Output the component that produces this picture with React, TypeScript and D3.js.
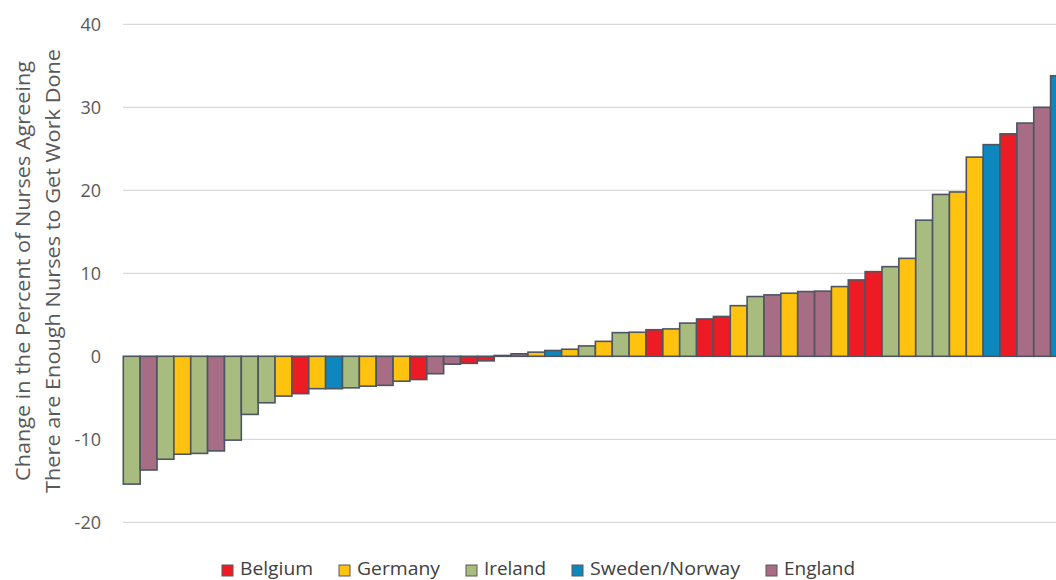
import React from "react";
import * as d3 from "d3";

const countries = ["Belgium", "Germany", "Ireland", "Sweden/Norway", "England"];
const countryColors = ["#ED1C24", "#FFC20E", "#A8BC80", "#0E87BF", "#A66D84"];

const barCountry = [
  "Ireland", "England", "Ireland", "Germany", "Ireland", "England", "Ireland", "Ireland",
  "Ireland", "Germany", "Belgium", "Germany", "Sweden/Norway", "Ireland", "Germany", "England",
  "Germany", "Belgium", "England", "England", "Belgium", "Belgium", "England", "England",
  "Germany", "Sweden/Norway", "Germany", "Ireland", "Germany", "Ireland", "Germany", "Belgium",
  "Germany", "Ireland", "Belgium", "Belgium", "Germany", "Ireland", "England", "Germany",
  "England", "England", "Germany", "Belgium", "Belgium", "Ireland", "Germany", "Ireland",
  "Ireland", "Germany", "Germany", "Sweden/Norway", "Belgium", "England", "England", "Sweden/Norway",
];
const barValues = [
  -15.4, -13.7, -12.4, -11.8, -11.7, -11.4, -10.1, -7.0,
  -5.6, -4.8, -4.5, -3.9, -3.9, -3.8, -3.6, -3.5,
  -3.0, -2.8, -2.1, -0.95, -0.85, -0.55, 0.1, 0.3,
  0.5, 0.7, 0.85, 1.25, 1.8, 2.85, 2.9, 3.2,
  3.3, 4.0, 4.5, 4.8, 6.1, 7.2, 7.4, 7.6,
  7.8, 7.85, 8.4, 9.2, 10.2, 10.8, 11.8, 16.4,
  19.5, 19.8, 24.0, 25.5, 26.8, 28.1, 30.0, 33.8,
];
const yTicks = [-20, -10, 0, 10, 20, 30, 40];
const yTitle = ["Change in the Percent of Nurses Agreeing", "There are Enough Nurses to Get  Work Done"];

export default function App() {
  const W = 1056, H = 580;
  const x0 = 123.3, pitch = 16.86;
  const x = d3.scaleBand<number>()
    .domain(barValues.map((_, i) => i))
    .range([x0, x0 + pitch * barValues.length])
    .padding(0);
  const y = d3.scaleLinear().domain([-20, 40]).range([522.3, 24.3]);
  const color = d3.scaleOrdinal<string, string>().domain(countries).range(countryColors);
  const font = "'Open Sans', sans-serif";

  const legendX = [222, 339, 466, 572, 766];
  const legendW = [73, 83, 62, 150, 71];

  return (
    <svg width={W} height={H} style={{ position: "absolute", left: 0, top: 0, background: "#fff" }}>
      {yTicks.map((t) => (
        <g key={t}>
          <line x1={123} x2={W} y1={y(t)} y2={y(t)} stroke="#d9d9d9" strokeWidth={1.3} />
          <text x={101} y={y(t)} dy="0.35em" textAnchor="end" fontFamily={font} fontSize={18} fill="#595959">
            {t}
          </text>
        </g>
      ))}
      {barValues.map((v, i) => {
        const top = y(Math.max(0, v));
        const bot = y(Math.min(0, v));
        return (
          <rect
            key={i}
            x={x(i)!}
            y={top}
            width={x.bandwidth()}
            height={Math.max(0.1, bot - top)}
            fill={color(barCountry[i])}
            stroke="#4D5562"
            strokeWidth={1.6}
          />
        );
      })}
      <g transform="translate(30,271) rotate(-90)">
        <text x={0} y={0} textAnchor="middle" fontFamily={font} fontSize={20} fill="#595959"
          textLength={420} lengthAdjust="spacingAndGlyphs">{yTitle[0]}</text>
        <text x={0} y={30} textAnchor="middle" fontFamily={font} fontSize={20} fill="#595959"
          textLength={444} lengthAdjust="spacingAndGlyphs">{yTitle[1]}</text>
      </g>
      {countries.map((c, i) => (
        <g key={c}>
          <rect x={legendX[i]} y={565} width={11} height={11} fill={countryColors[i]} stroke="#595959" strokeWidth={1} />
          <text x={legendX[i] + 18} y={575} fontFamily={font} fontSize={18} fill="#404040"
            textLength={legendW[i]} lengthAdjust="spacingAndGlyphs">{c}</text>
        </g>
      ))}
    </svg>
  );
}
